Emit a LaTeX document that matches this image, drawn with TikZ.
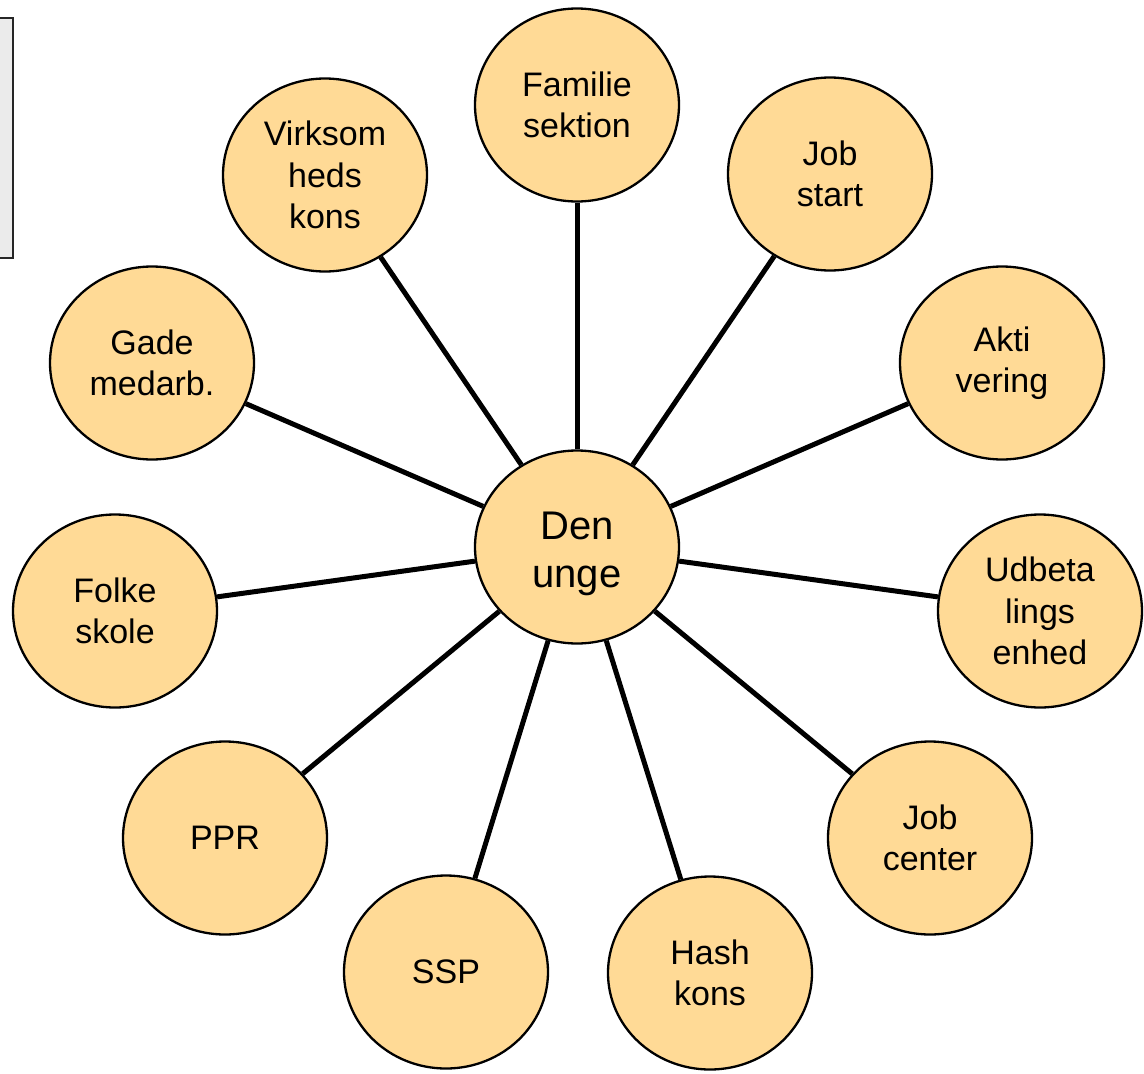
\documentclass[tikz,border=0pt]{standalone}
\usepackage{fontspec}
\setmainfont{Liberation Sans}
\usetikzlibrary{shapes.geometric}
\definecolor{bubble}{RGB}{255,218,150}
\definecolor{boxgray}{RGB}{235,235,235}
\begin{document}
\begin{tikzpicture}[x=1pt,y=-1pt,
  bub/.style={ellipse,draw=black,line width=2.3pt,fill=bubble,minimum width=204pt,minimum height=193pt,inner sep=0pt,align=center,font=\fontsize{34}{41.5}\selectfont},
  link/.style={line width=5pt,draw=black}]
\useasboundingbox (0,0) rectangle (1144,1074);
\begin{scope}
\clip (0,0) rectangle (1144,1074);
\draw[fill=boxgray,draw=black!85,line width=2pt] (-20,18) rectangle (13,258);
\end{scope}
\node[bub,font=\fontsize{40}{48}\selectfont] (c) at (577,547) {\rule{0pt}{41pt}Den\\unge};
\node[bub] (fam) at (577,105) {Familie\\sektion};
\node[bub] (js) at (830,174) {Job\\start};
\node[bub] (akt) at (1002,363) {Akti\\vering};
\node[bub] (udb) at (1040,611) {Udbeta\\lings\\enhed};
\node[bub] (jc) at (930,838) {Job\\center};
\node[bub] (hash) at (710,973) {Hash\\kons};
\node[bub] (ssp) at (446,972) {SSP};
\node[bub] (ppr) at (225,838) {PPR};
\node[bub] (fs) at (115,611) {Folke\\skole};
\node[bub] (gade) at (152,363) {Gade\\medarb.};
\node[bub] (virk) at (325,175) {Virksom\\heds\\kons};
\foreach \n in {fam,js,akt,udb,jc,hash,ssp,ppr,fs,gade,virk}
  \draw[link] (c) -- (\n);
\end{tikzpicture}
\end{document}
